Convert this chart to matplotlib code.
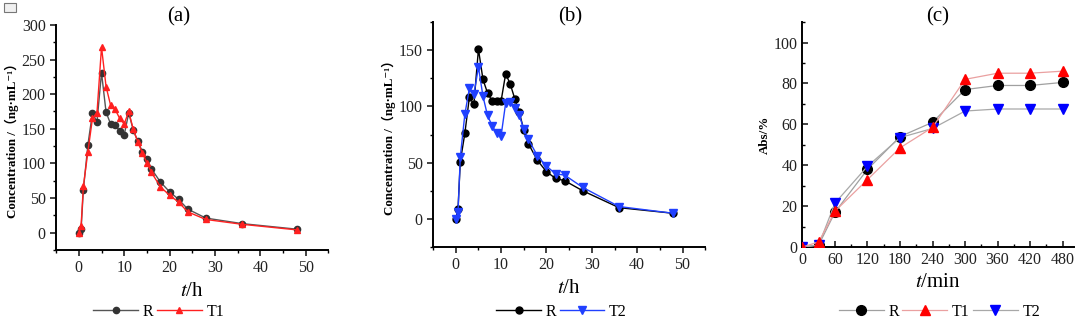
import numpy as np
import matplotlib
matplotlib.use("Agg")
import matplotlib.pyplot as plt
from matplotlib.ticker import MultipleLocator
from matplotlib.patches import Rectangle

plt.rcParams['font.family'] = ['Liberation Serif', 'DejaVu Serif', 'Noto Sans CJK SC']
plt.rcParams['mathtext.fontset'] = 'stix'

# plasma concentration time points (h)
t_h = [0, 0.5, 1, 2, 3, 4, 5, 6, 7, 8, 9, 10, 11, 12, 13, 14, 15, 16, 18, 20, 22, 24, 28, 36, 48]

# panel (a)
a_R = [0, 5, 62, 127, 173, 160, 231, 174, 157, 155, 147, 141, 173, 148, 132, 117, 107, 92, 73, 59, 48, 34, 21, 13, 5]
a_T1 = [0, 10, 67, 117, 165, 173, 268, 211, 184, 178, 165, 157, 175, 149, 131, 115, 101, 87, 66, 54, 44, 30, 19, 12, 4]

# panel (b)
b_R = [0, 9, 51, 76, 108, 102, 151, 124, 112, 105, 105, 105, 129, 120, 107, 95, 79, 67, 52, 42, 36, 34, 25, 10, 5]
b_T2 = [0, 6, 55, 93, 116, 111, 135, 109, 92, 83, 76, 74, 103, 104, 99, 92, 80, 71, 56, 47, 40, 39, 28, 11, 5]

# panel (c) absorption
t_min = [0, 30, 60, 120, 180, 240, 300, 360, 420, 480]
c_R = [0, 1, 17, 38, 54, 61, 77, 79, 79, 80.5]
c_T1 = [0, 2.5, 17.5, 33, 48.5, 58.5, 82, 85, 85, 86]
c_T2 = [0, 1, 21.5, 39.5, 53.5, 58, 66.5, 67.5, 67.5, 67.5]

fig = plt.figure(figsize=(10.8, 3.2), dpi=100)
ax1 = fig.add_axes([0.052, 0.219, 0.252, 0.703])
ax2 = fig.add_axes([0.401, 0.228, 0.252, 0.703])
ax3 = fig.add_axes([0.743, 0.228, 0.251, 0.703])

ylab = "Concentration /（ng·mL⁻¹）"
leg_kw = dict(loc='center', ncol=3, frameon=False, fontsize=11.5, handlelength=2.8,
              columnspacing=0.2, handletextpad=0.3, borderpad=0.1)

def style(ax, direction):
    for s in ['top', 'right']:
        ax.spines[s].set_visible(False)
    for s in ['left', 'bottom']:
        ax.spines[s].set_linewidth(1.4)
    ax.tick_params(which='major', direction=direction, length=4, width=1.2, labelsize=11.5, colors='#222222')
    ax.tick_params(which='minor', direction=direction, length=2.5, width=1.0)

# (a)
ax1.plot(t_h, a_R, color='#555555', lw=1, marker='o', ms=4.5, mfc='#333333', mec='#333333', label='R')
ax1.plot(t_h, a_T1, color='#ff2020', lw=1, marker='^', ms=5, mfc='#ff2020', mec='#ff2020', label='T1')
ax1.set_xlim(-5, 55)
ax1.set_ylim(-25, 300)
ax1.xaxis.set_major_locator(MultipleLocator(10))
ax1.xaxis.set_minor_locator(MultipleLocator(5))
ax1.yaxis.set_major_locator(MultipleLocator(50))
ax1.yaxis.set_minor_locator(MultipleLocator(25))
style(ax1, 'out')
ax1.set_ylabel(ylab, fontsize=9.4, fontweight='bold', labelpad=2)
ax1.set_xlabel("$\\it{t}$/h", fontsize=15, labelpad=4)
fig.text(0.165, 0.947, "(a)", fontsize=15, ha='center', va='center')
fig.legend(*ax1.get_legend_handles_labels(), bbox_to_anchor=(0.147, 0.025), **leg_kw)

# (b)
ax2.plot(t_h, b_R, color='black', lw=1, marker='o', ms=5, mfc='black', mec='black', label='R')
ax2.plot(t_h, b_T2, color='#2040ff', lw=1, marker='v', ms=5.5, mfc='#2040ff', mec='#2040ff', label='T2')
ax2.set_xlim(-5, 55)
ax2.set_ylim(-25, 175)
ax2.xaxis.set_major_locator(MultipleLocator(10))
ax2.xaxis.set_minor_locator(MultipleLocator(5))
ax2.yaxis.set_major_locator(MultipleLocator(50))
ax2.yaxis.set_minor_locator(MultipleLocator(25))
ax2.set_yticks([0, 50, 100, 150])
style(ax2, 'out')
ax2.set_ylabel(ylab, fontsize=9.4, fontweight='bold', labelpad=2)
ax2.set_xlabel("$\\it{t}$/h", fontsize=15, labelpad=4)
fig.text(0.528, 0.947, "(b)", fontsize=15, ha='center', va='center')
fig.legend(*ax2.get_legend_handles_labels(), bbox_to_anchor=(0.52, 0.025), **leg_kw)

# (c)
ax3.plot(t_min, c_R, color='#a0a0a0', lw=0.9, marker='o', ms=7, mfc='black', mec='black', label='R', zorder=3)
ax3.plot(t_min, c_T2, color='#a8a8a8', lw=0.9, marker='v', ms=7.5, mfc='#0000ff', mec='#0000ff', label='T2', zorder=4)
ax3.plot(t_min, c_T1, color='#eaa0a0', lw=0.9, marker='^', ms=7.5, mfc='#ff0000', mec='#ff0000', label='T1', zorder=5)
ax3.set_xlim(0, 500)
ax3.set_ylim(0, 110)
ax3.set_xticks([0, 60, 120, 180, 240, 300, 360, 420, 480])
ax3.xaxis.set_minor_locator(MultipleLocator(30))
ax3.yaxis.set_minor_locator(MultipleLocator(10))
ax3.set_yticks([0, 20, 40, 60, 80, 100])
style(ax3, 'in')
ax3.set_ylabel("Abs/%", fontsize=9.4, fontweight='bold', labelpad=2)
ax3.set_xlabel("$\\it{t}$/min", fontsize=15, labelpad=4)
fig.text(0.868, 0.947, "(c)", fontsize=15, ha='center', va='center')
h, l = ax3.get_legend_handles_labels()
order = [0, 2, 1]
fig.legend([h[i] for i in order], [l[i] for i in order], bbox_to_anchor=(0.87, 0.025), **leg_kw)

# small image icon at top-left corner
fig.patches.append(Rectangle((0.004, 0.963), 0.011, 0.028, transform=fig.transFigure,
                             fill=True, facecolor='#f0f0f0', edgecolor='#777777', lw=0.8))

fig.savefig("out.png", dpi=100)
